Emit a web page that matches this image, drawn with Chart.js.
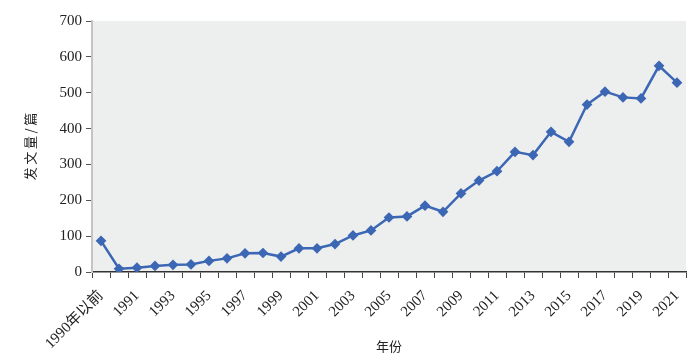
<!DOCTYPE html>
<html>
<head>
<meta charset="utf-8">
<script src="https://cdn.jsdelivr.net/npm/chart.js@4/dist/chart.umd.min.js"></script>
<style>
html,body{margin:0;padding:0;background:#fff;}
#wrap{width:700px;height:362px;}
</style>
</head>
<body>
<div id="wrap"><canvas id="c" width="700" height="362"></canvas></div>
<script>
const categories = ["1990年以前","1990","1991","1992","1993","1994","1995","1996","1997","1998","1999","2000","2001","2002","2003","2004","2005","2006","2007","2008","2009","2010","2011","2012","2013","2014","2015","2016","2017","2018","2019","2020","2021"];
const papers = [87,9,12,17,20,21,31,38,52,53,43,66,66,78,102,116,152,155,185,168,219,255,281,335,326,391,363,467,503,487,484,575,528];
const yTicks = [0,100,200,300,400,500,600,700];

const bgPlugin = {
  id:'bg',
  beforeDraw(chart){
    const {ctx, chartArea:a} = chart;
    ctx.save();
    ctx.fillStyle = '#edeeee';
    ctx.fillRect(a.left, a.top, a.right-a.left, a.bottom-a.top);
    ctx.restore();
  }
};

new Chart(document.getElementById('c'), {
  type:'line',
  data:{
    labels:categories,
    datasets:[{
      data:papers,
      borderColor:'#3c67b4',
      backgroundColor:'#3c67b4',
      borderWidth:2.5,
      pointStyle:'rectRot',
      pointRadius:3.6,
      pointHoverRadius:3.6,
      tension:0
    }]
  },
  options:{
    responsive:false,
    animation:false,
    devicePixelRatio:1,
    layout:{padding:{left:0,right:14,top:21,bottom:0}},
    plugins:{legend:{display:false},tooltip:{enabled:false}},
    scales:{
      x:{
        offset:true,
        grid:{display:true,offset:true,drawOnChartArea:false,tickLength:6,color:'#444',lineWidth:1},
        border:{display:true,color:'#333',width:1.5},
        ticks:{
          autoSkip:false,
          maxRotation:45,minRotation:45,
          padding:9,
          color:'#222',
          font:{family:'"Liberation Serif","Noto Sans CJK SC",serif',size:15},
          callback:function(v,i){ return i%2===0 ? categories[i] : ''; }
        },
        title:{display:true,text:'年份',color:'#222',font:{family:'"Noto Sans CJK SC",sans-serif',size:13},padding:{top:0,bottom:8}},
        afterFit(s){ s.height = 90; }
      },
      y:{
        min:0,max:700,
        afterBuildTicks(s){ s.ticks = yTicks.map(v=>({value:v})); },
        grid:{display:true,drawOnChartArea:false,tickLength:6,color:'#555'},
        border:{display:true,color:'#c4c4c4',width:2},
        ticks:{
          padding:4,
          color:'#222',
          font:{family:'"Liberation Serif",serif',size:15}
        },
        title:{display:true,text:'发\u2009文\u2009量\u2009/\u2009篇',color:'#222',font:{family:'"Noto Sans CJK SC",sans-serif',size:13},padding:{top:22,bottom:8}},
        afterFit(s){ s.width = 92; }
      }
    }
  },
  plugins:[bgPlugin]
});
</script>
</body>
</html>
